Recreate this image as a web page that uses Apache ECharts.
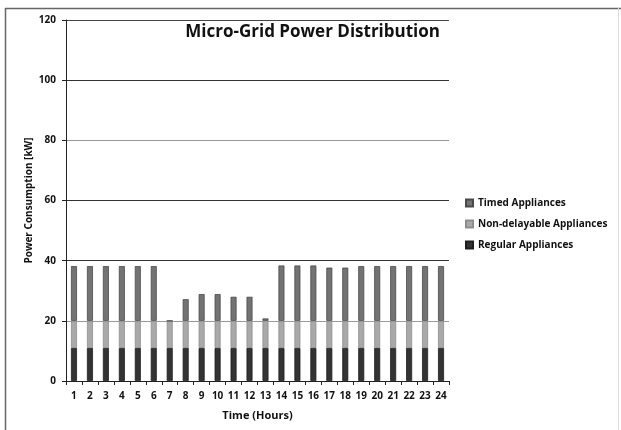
<!DOCTYPE html>
<html>
<head>
<meta charset="utf-8">
<script src="https://cdn.jsdelivr.net/npm/echarts@6/dist/echarts.min.js"></script>
<style>html,body{margin:0;padding:0;background:#fff}#c{width:621px;height:430px}</style>
</head>
<body>
<div id="c"></div>
<script>
const hours = ['1','2','3','4','5','6','7','8','9','10','11','12','13','14','15','16','17','18','19','20','21','22','23','24'];
const regular = [11,11,11,11,11,11,11,11,11,11,11,11,11,11,11,11,11,11,11,11,11,11,11,11];
const nonDelayable = [9,9,9,9,9,9,9,9,9,9,9,9,9,9,9,9,9,9,9,9,9,9,9,9];
const timed = [18.2,18.2,18.2,18.2,18.2,18.2,0,7.2,8.9,8.9,8.0,8.0,0.8,18.4,18.4,18.4,17.7,17.7,18.2,18.2,18.2,18.2,18.2,18.2];
const yTicks = [0,20,40,60,80,100,120];

const font = '"Open Sans", "Liberation Sans", sans-serif';
const chart = echarts.init(document.getElementById('c'), null, {renderer:'canvas'});
chart.setOption({
  animation: false,
  backgroundColor: '#fff',
  title: {
    text: 'Micro-Grid Power Distribution',
    right: 176, top: 19,
    textStyle: {fontFamily: font, fontWeight: 'bold', fontSize: 17, color: '#111'}
  },
  legend: {
    data: ['Timed Appliances','Non-delayable Appliances','Regular Appliances'],
    orient: 'vertical',
    left: 460, top: 193,
    itemWidth: 7, itemHeight: 7, itemGap: 11,
    icon: 'rect',
    textStyle: {fontFamily: font, fontWeight: 'bold', fontSize: 10, color: '#111'}
  },
  grid: {left: 66, right: 172, top: 20, bottom: 49, containLabel: false},
  xAxis: {
    type: 'category', data: hours,
    name: 'Time (Hours)', nameLocation: 'middle', nameGap: 29,
    nameTextStyle: {fontFamily: font, fontWeight: 'bold', fontSize: 11, color: '#111'},
    axisLine: {lineStyle: {color: '#222', width: 1}},
    axisTick: {show: true, length: 4, lineStyle: {color: '#222'}},
    axisLabel: {fontFamily: font, fontWeight: 'bold', fontSize: 10, color: '#111', margin: 10, interval: 0}
  },
  yAxis: {
    type: 'value', min: yTicks[0], max: yTicks[yTicks.length-1], interval: 20,
    name: 'Power Consumption [kW]', nameLocation: 'middle', nameGap: 32, nameMoveOverlap: false,
    nameTextStyle: {fontFamily: font, fontWeight: 'bold', fontSize: 10, color: '#111'},
    axisLine: {show: true, lineStyle: {color: '#222', width: 1}},
    axisTick: {show: true, length: 4, lineStyle: {color: '#222'}},
    axisLabel: {fontFamily: font, fontWeight: 'bold', fontSize: 10, color: '#111', margin: 10},
    splitLine: {show: true, lineStyle: {color: ['#222','#9a9a9a','#333','#333','#999','#333','#444'], width: 1}}
  },
  series: [
    {name: 'Regular Appliances', type: 'bar', stack: 'p', data: regular, barWidth: 6,
     itemStyle: {color: '#333333', borderColor: '#1e1e1e', borderWidth: 0.8}},
    {name: 'Non-delayable Appliances', type: 'bar', stack: 'p', data: nonDelayable, barWidth: 6,
     itemStyle: {color: '#a9a9a9', borderColor: '#8e8e8e', borderWidth: 0.8}},
    {name: 'Timed Appliances', type: 'bar', stack: 'p', data: timed, barWidth: 6,
     itemStyle: {color: '#737373', borderColor: '#4a4a4a', borderWidth: 0.8}}
  ],
  graphic: [
    {type: 'line', shape: {x1: 5, y1: 8.5, x2: 621, y2: 8.5}, style: {stroke: '#666', lineWidth: 1.5}, silent: true},
    {type: 'line', shape: {x1: 5.5, y1: 8, x2: 5.5, y2: 430}, style: {stroke: '#666', lineWidth: 1.5}, silent: true},
    {type: 'line', shape: {x1: 618.5, y1: 8, x2: 618.5, y2: 430}, style: {stroke: '#ddd', lineWidth: 1}, silent: true}
  ]
});
</script>
</body>
</html>
